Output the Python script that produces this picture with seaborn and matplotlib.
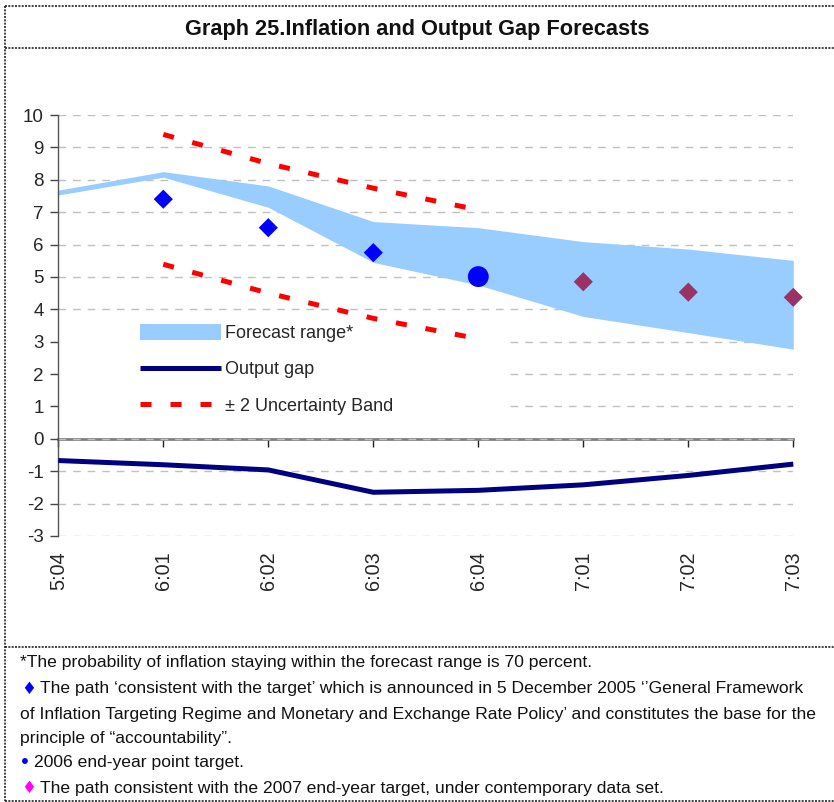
import matplotlib
matplotlib.use("Agg")
import matplotlib.pyplot as plt
from matplotlib.lines import Line2D
from matplotlib.patches import Rectangle
import matplotlib.transforms as mtransforms
import seaborn as sns

# ---------------- data ----------------
periods = ['5:04', '6:01', '6:02', '6:03', '6:04', '7:01', '7:02', '7:03']
range_upper = [7.68, 8.25, 7.81, 6.71, 6.52, 6.09, 5.86, 5.51]
range_lower = [7.53, 8.08, 7.15, 5.45, 4.75, 3.78, 3.28, 2.77]
output_gap = [-0.67, -0.80, -0.96, -1.65, -1.59, -1.42, -1.13, -0.78]

band_periods = ['6:01', '6:02', '6:03', '6:04']
band_upper = [9.40, 8.50, 7.74, 7.07]
band_lower = [5.39, 4.50, 3.72, 3.09]

target_periods = ['6:01', '6:02', '6:03']
target_path = [7.40, 6.52, 5.75]
point_target_periods = ['6:04']
point_target = [5.01]
path2007_periods = ['7:01', '7:02', '7:03']
path2007 = [4.85, 4.53, 4.37]

y_ticks = list(range(-3, 11))

title = "Graph 25.Inflation and Output Gap Forecasts"
legend_labels = ["Forecast range*", "Output gap", "\u00b1 2 Uncertainty Band"]
notes = [
    "*The probability of inflation staying within the forecast range is 70 percent.",
    "The path \u2018consistent with the target\u2019 which is announced in 5 December 2005 \u2018\u2019General Framework",
    "of Inflation Targeting Regime and Monetary and Exchange Rate Policy\u2019 and constitutes the base for the",
    "principle of \u201caccountability\u201d.",
    "2006 end-year point target.",
    "The path consistent with the 2007 end-year target, under contemporary data set.",
]

# ---------------- style ----------------
sns.set_style("white")
base = ['Liberation Sans', 'DejaVu Sans']
plt.rcParams['font.family'] = base
plt.rcParams['lines.solid_capstyle'] = 'butt'
plt.rcParams['lines.dash_capstyle'] = 'butt'

W, H = 834, 802
fig = plt.figure(figsize=(W / 100, H / 100), dpi=100)
fig.patch.set_facecolor('white')

x_left, x_right, y_top, y_bot = 58.3, 793.3, 115, 536
ax = fig.add_axes([x_left / W, 1 - y_bot / H, (x_right - x_left) / W, (y_bot - y_top) / H])

pos = {p: i for i, p in enumerate(periods)}
x_all = [pos[p] for p in periods]
x_band = [pos[p] for p in band_periods]

# forecast range
ax.fill_between(x_all, range_lower, range_upper, color='#99CCFF', lw=0, zorder=2)

# output gap
sns.lineplot(x=x_all, y=output_gap, color='#000080', lw=3.6, ax=ax, zorder=3, clip_on=False)

# uncertainty band
for yb in (band_upper, band_lower):
    ax.plot(x_band, yb, color='#FF0000', lw=3.6, linestyle=(0, (2.2, 3.8)), zorder=3)

# markers
sns.scatterplot(x=[pos[p] for p in target_periods], y=target_path, marker='D', s=95,
                color='#0000FF', edgecolor='none', ax=ax, zorder=4, clip_on=False)
sns.scatterplot(x=[pos[p] for p in point_target_periods], y=point_target, marker='o', s=225,
                color='#0000FF', edgecolor='none', ax=ax, zorder=4, clip_on=False)
sns.scatterplot(x=[pos[p] for p in path2007_periods], y=path2007, marker='D', s=95,
                color='#993366', edgecolor='none', ax=ax, zorder=4, clip_on=False)

ax.set_xlim(0, len(periods) - 1)
ax.set_ylim(min(y_ticks), max(y_ticks))
ax.set_yticks(y_ticks)
ax.set_yticklabels([str(t) for t in y_ticks], fontsize=13.5)
ax.set_xticks(x_all)
ax.set_xticklabels(periods, rotation=90, fontsize=14.3)
ax.tick_params(axis='x', length=0, pad=11)
ax.tick_params(axis='y', direction='out', length=5.5, width=1, color='#444444', pad=5, left=True)
ax.yaxis.grid(True, color='#C0C0C0', lw=1, linestyle=(0, (5.5, 5)))
ax.xaxis.grid(False)
ax.set_axisbelow(True)
for s in ('top', 'right', 'bottom'):
    ax.spines[s].set_visible(False)
ax.spines['left'].set_color('#555555')
ax.spines['left'].set_linewidth(1.0)

# zero axis with ticks
zero_frac = (0 - min(y_ticks)) / (max(y_ticks) - min(y_ticks))
sec = ax.secondary_xaxis(zero_frac)
sec.set_xticks(x_all)
sec.set_xticklabels([''] * len(x_all))
sec.tick_params(direction='out', length=5.5, width=1, color='#222222')
sec.spines['bottom'].set_color('#808080')
sec.spines['bottom'].set_linewidth(2)

# white legend background
blend = mtransforms.blended_transform_factory(ax.transAxes, ax.transData)
ax.add_patch(Rectangle((0, 0.3), (508 - x_left) / (x_right - x_left), 3.0, transform=blend,
                       facecolor='white', edgecolor='none', zorder=1))

handles = [
    Line2D([], [], color='#99CCFF', lw=11.5),
    Line2D([], [], color='#000080', lw=3.6),
    Line2D([], [], color='#FF0000', lw=3.6, linestyle=(0, (2.2, 3.8))),
]
ax.legend(handles, legend_labels, loc='upper left', bbox_to_anchor=(140 / W, 1 - 325 / H),
          bbox_transform=fig.transFigure, frameon=False, fontsize=13, borderpad=0,
          borderaxespad=0, handlelength=4.5, handletextpad=0.22, labelspacing=1.07)

# title
fig.text(0.5, 1 - 29 / H, title, ha='center', va='center', fontsize=15.7, fontweight='bold',
         color='#111111')

# footnotes
ys = [663, 689, 714, 738, 763, 788]
xs = [20, 40, 20, 20, 34, 40]
for t, x, y in zip(notes, xs, ys):
    fig.text(x / W, 1 - y / H, t, ha='left', va='center', fontsize=12.6, color='#111111')
fig.text(21 / W, 1 - 689 / H, "\u2666", ha='left', va='center', fontsize=12, color='#0000FF',
         family=['DejaVu Sans'])
fig.text(19 / W, 1 - 763 / H, "\u2022", ha='left', va='center', fontsize=14.5, color='#0000FF',
         family=['DejaVu Sans'])
fig.text(21 / W, 1 - 788 / H, "\u2666", ha='left', va='center', fontsize=12, color='#FF00FF',
         family=['DejaVu Sans'])

# dotted frame lines
def hline(y, x0=5, x1=834):
    fig.add_artist(Line2D([x0 / W, x1 / W], [1 - y / H, 1 - y / H], transform=fig.transFigure,
                          color='#222222', lw=1.2, linestyle=(0, (1.2, 0.8))))

def vline(x, y0, y1):
    fig.add_artist(Line2D([x / W, x / W], [1 - y0 / H, 1 - y1 / H], transform=fig.transFigure,
                          color='#222222', lw=1.2, linestyle=(0, (1.2, 0.8))))

hline(5.5)
hline(47.5)
hline(646.5)
hline(800.5)
vline(5, 5.5, 800.5)

fig.savefig('out.png', dpi=100, facecolor='white')
